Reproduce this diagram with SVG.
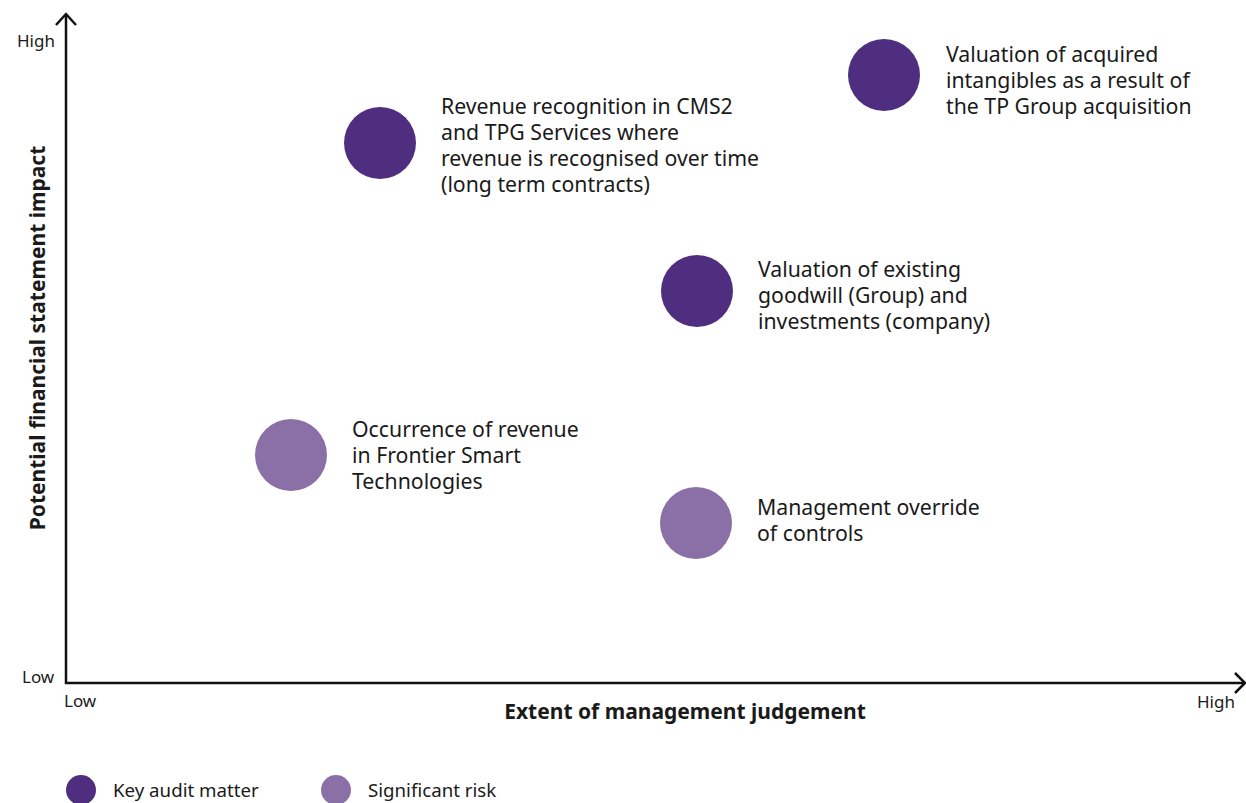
<svg xmlns="http://www.w3.org/2000/svg" width="1246" height="803" viewBox="0 0 1246 803">
<style>
text{font-family:"Noto Sans","Open Sans",sans-serif;fill:#1a1a1a}
.lbl{font-size:21.25px}
.tick{font-size:17px}
.axt{font-size:21px;font-weight:bold}
.leg{font-size:18.7px}
.kam{fill:#4f2d7f}
.sr{fill:#8a70a6}
.ax{stroke:#111;stroke-width:2.5;fill:none}
</style>
<rect width="1246" height="803" fill="#fff"/>
<g id="axes">
<path class="ax" d="M66,15 V683 H1244"/>
<path class="ax" d="M56,25 L66,14 L76,25"/>
<path class="ax" d="M1235,673 L1245,683 L1235,693"/>
<text class="tick" x="17" y="47">High</text>
<text class="tick" x="22" y="683">Low</text>
<text class="tick" x="64" y="707">Low</text>
<text class="tick" x="1197" y="708">High</text>
<text class="axt" x="685" y="719" text-anchor="middle">Extent of management judgement</text>
<text class="axt" transform="translate(45,338) rotate(-90)" text-anchor="middle">Potential financial statement impact</text>
</g>
<g id="node-revenue-recognition">
<circle class="kam" cx="380" cy="143" r="36"/>
<text class="lbl" x="441" y="114"><tspan x="441">Revenue recognition in CMS2</tspan><tspan x="441" dy="26">and TPG Services where</tspan><tspan x="441" dy="26">revenue is recognised over time</tspan><tspan x="441" dy="26">(long term contracts)</tspan></text>
</g>
<g id="node-acquired-intangibles">
<circle class="kam" cx="884" cy="75" r="36"/>
<text class="lbl" x="946" y="62"><tspan x="946">Valuation of acquired</tspan><tspan x="946" dy="26">intangibles as a result of</tspan><tspan x="946" dy="26">the TP Group acquisition</tspan></text>
</g>
<g id="node-goodwill">
<circle class="kam" cx="697" cy="291" r="36"/>
<text class="lbl" x="758" y="277"><tspan x="758">Valuation of existing</tspan><tspan x="758" dy="26">goodwill (Group) and</tspan><tspan x="758" dy="26">investments (company)</tspan></text>
</g>
<g id="node-occurrence">
<circle class="sr" cx="291" cy="455" r="36"/>
<text class="lbl" x="352" y="437"><tspan x="352">Occurrence of revenue</tspan><tspan x="352" dy="26">in Frontier Smart</tspan><tspan x="352" dy="26">Technologies</tspan></text>
</g>
<g id="node-management-override">
<circle class="sr" cx="696" cy="523" r="36"/>
<text class="lbl" x="757" y="515"><tspan x="757">Management override</tspan><tspan x="757" dy="26">of controls</tspan></text>
</g>
<g id="connectors"></g>
<g id="legend">
<circle class="kam" cx="81" cy="790" r="15"/>
<text class="leg" x="113" y="797">Key audit matter</text>
<circle class="sr" cx="336" cy="790" r="15"/>
<text class="leg" x="368" y="797">Significant risk</text>
</g>
</svg>
